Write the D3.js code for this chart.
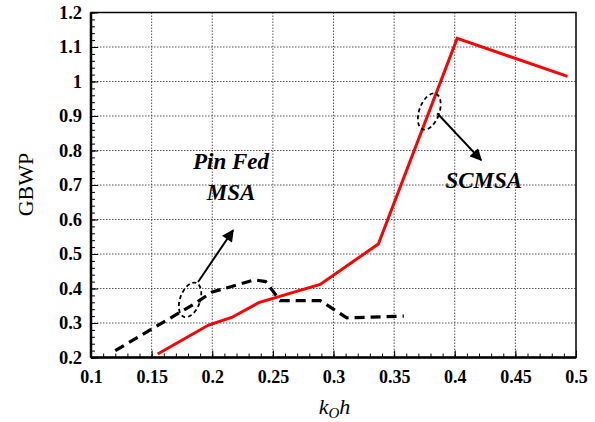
<!DOCTYPE html>
<html>
<head>
<meta charset="utf-8">
<script src="https://cdn.jsdelivr.net/npm/d3@7"></script>
<style>
  body { margin: 0; background: #fff; }
  svg { display: block; }
</style>
</head>
<body>
<script>
// red line (SCMSA)
const scmsaK = [0.155, 0.197, 0.216, 0.239, 0.289, 0.337, 0.402, 0.493];
const scmsaV = [0.21, 0.294, 0.316, 0.36, 0.412, 0.529, 1.125, 1.015];

// dashed black line (Pin Fed MSA)
const pinK = [0.12, 0.185, 0.2, 0.235, 0.244, 0.256, 0.289, 0.311, 0.358];
const pinV = [0.22, 0.355, 0.39, 0.425, 0.42, 0.365, 0.365, 0.315, 0.32];

const xTicks = [0.1, 0.15, 0.2, 0.25, 0.3, 0.35, 0.4, 0.45, 0.5];
const yTicks = [0.2, 0.3, 0.4, 0.5, 0.6, 0.7, 0.8, 0.9, 1, 1.1, 1.2];

const SERIF = "'Liberation Serif', 'Times New Roman', Times, serif";

var margin = {top: 12.5, right: 19, bottom: 64.5, left: 91},
    W = 595, H = 422,
    width = W - margin.left - margin.right,
    height = H - margin.top - margin.bottom;

var svg = d3.select("body").append("svg")
  .attr("width", W).attr("height", H);

var g = svg.append("g")
  .attr("transform", "translate(" + margin.left + "," + margin.top + ")");

var x = d3.scaleLinear().domain([0.1, 0.5]).range([0, width]);
var y = d3.scaleLinear().domain([0.2, 1.2]).range([height, 0]);

// grid
g.append("g").selectAll("line").data(xTicks.slice(1, -1)).enter().append("line")
  .attr("x1", d => x(d)).attr("x2", d => x(d))
  .attr("y1", 0).attr("y2", height)
  .attr("stroke", "#555").attr("stroke-width", 1).attr("stroke-dasharray", "1.5,1.5");
g.append("g").selectAll("line").data(yTicks.slice(1, -1)).enter().append("line")
  .attr("y1", d => y(d)).attr("y2", d => y(d))
  .attr("x1", 0).attr("x2", width)
  .attr("stroke", "#555").attr("stroke-width", 1).attr("stroke-dasharray", "1.5,1.5");

// axes with inward ticks
var xMinor = d3.range(0.1, 0.5001, 0.01);
var yMinor = d3.range(0.2, 1.2001, 0.02);

var xAxis = g.append("g").attr("transform", "translate(0," + height + ")");
xAxis.call(d3.axisBottom(x).tickValues(xMinor).tickSize(-4).tickFormat(""));
xAxis.select(".domain").remove();
var xMaj = g.append("g").attr("transform", "translate(0," + height + ")")
  .call(d3.axisBottom(x).tickValues(xTicks).tickSize(-7).tickPadding(13).tickFormat(d => String(+d.toFixed(2))));
xMaj.select(".domain").remove();
xMaj.selectAll("text").style("font-size", "18px").style("font-weight", "bold")
  .style("font-family", SERIF).attr("fill", "#000");

var yAxis = g.append("g");
yAxis.call(d3.axisLeft(y).tickValues(yMinor).tickSize(-4).tickFormat(""));
yAxis.select(".domain").remove();
var yMaj = g.append("g")
  .call(d3.axisLeft(y).tickValues(yTicks).tickSize(-7).tickPadding(9).tickFormat(d => String(+d.toFixed(1))));
yMaj.select(".domain").remove();
yMaj.selectAll("text").style("font-size", "18.5px").style("font-weight", "bold")
  .style("font-family", SERIF).attr("fill", "#000");

// frame
g.append("rect").attr("x", 0).attr("y", 0).attr("width", width).attr("height", height)
  .attr("fill", "none").attr("stroke", "#000").attr("stroke-width", 1.5);
g.append("line").attr("x1", 0).attr("x2", width).attr("y1", height).attr("y2", height)
  .attr("stroke", "#000").attr("stroke-width", 2.5);
g.append("line").attr("x1", 0).attr("x2", 0).attr("y1", 0).attr("y2", height)
  .attr("stroke", "#000").attr("stroke-width", 2.5);

// lines
var line = d3.line().x(d => x(d[0])).y(d => y(d[1]));

g.append("path").datum(d3.zip(pinK, pinV))
  .attr("d", line).attr("fill", "none").attr("stroke", "#000")
  .attr("stroke-width", 3.2).attr("stroke-dasharray", "10,6");

g.append("path").datum(d3.zip(scmsaK, scmsaV))
  .attr("d", line).attr("fill", "none").attr("stroke", "#ff0000")
  .attr("stroke-width", 3);

// annotations
var defs = svg.append("defs");
defs.append("marker").attr("id", "arr").attr("viewBox", "0 0 10 10")
  .attr("refX", 9).attr("refY", 5).attr("markerWidth", 6.5).attr("markerHeight", 6)
  .attr("markerUnits", "strokeWidth").attr("orient", "auto")
  .append("path").attr("d", "M0,0 L10,5 L0,10 Z").attr("fill", "#000");

function ellipse(cx, cy, rx, ry, rot) {
  g.append("ellipse")
    .attr("transform", "translate(" + x(cx) + "," + y(cy) + ") rotate(" + rot + ")")
    .attr("rx", rx).attr("ry", ry)
    .attr("fill", "none").attr("stroke", "#000").attr("stroke-width", 1.8)
    .attr("stroke-dasharray", "4,3");
}
function arrow(k1, v1, k2, v2) {
  g.append("line")
    .attr("x1", x(k1)).attr("y1", y(v1)).attr("x2", x(k2)).attr("y2", y(v2))
    .attr("stroke", "#000").attr("stroke-width", 2).attr("marker-end", "url(#arr)");
}

ellipse(0.1817, 0.367, 10, 18, 20);
arrow(0.1883, 0.419, 0.2172, 0.569);
ellipse(0.379, 0.913, 10, 19, 20);
arrow(0.3855, 0.908, 0.4218, 0.772);

function label(k, v, txt) {
  g.append("text").attr("x", x(k)).attr("y", y(v)).attr("text-anchor", "middle")
    .style("font-family", SERIF).style("font-size", "23px")
    .style("font-weight", "bold").style("font-style", "italic")
    .text(txt);
}
label(0.2155, 0.746, "Pin Fed");
label(0.2155, 0.656, "MSA");
label(0.424, 0.691, "SCMSA");

// axis titles
svg.append("text")
  .attr("transform", "translate(33,184.5) rotate(-90)")
  .attr("text-anchor", "middle")
  .style("font-family", SERIF).style("font-size", "22px").text("GBWP");

var xt = svg.append("text").attr("x", margin.left + x(0.3) + 1).attr("y", 414)
  .attr("text-anchor", "middle")
  .style("font-family", SERIF).style("font-size", "22px").style("font-style", "italic");
xt.append("tspan").text("k");
xt.append("tspan").style("font-size", "15px").attr("dy", 4).text("O");
xt.append("tspan").attr("dy", -4).text("h");
</script>
</body>
</html>
